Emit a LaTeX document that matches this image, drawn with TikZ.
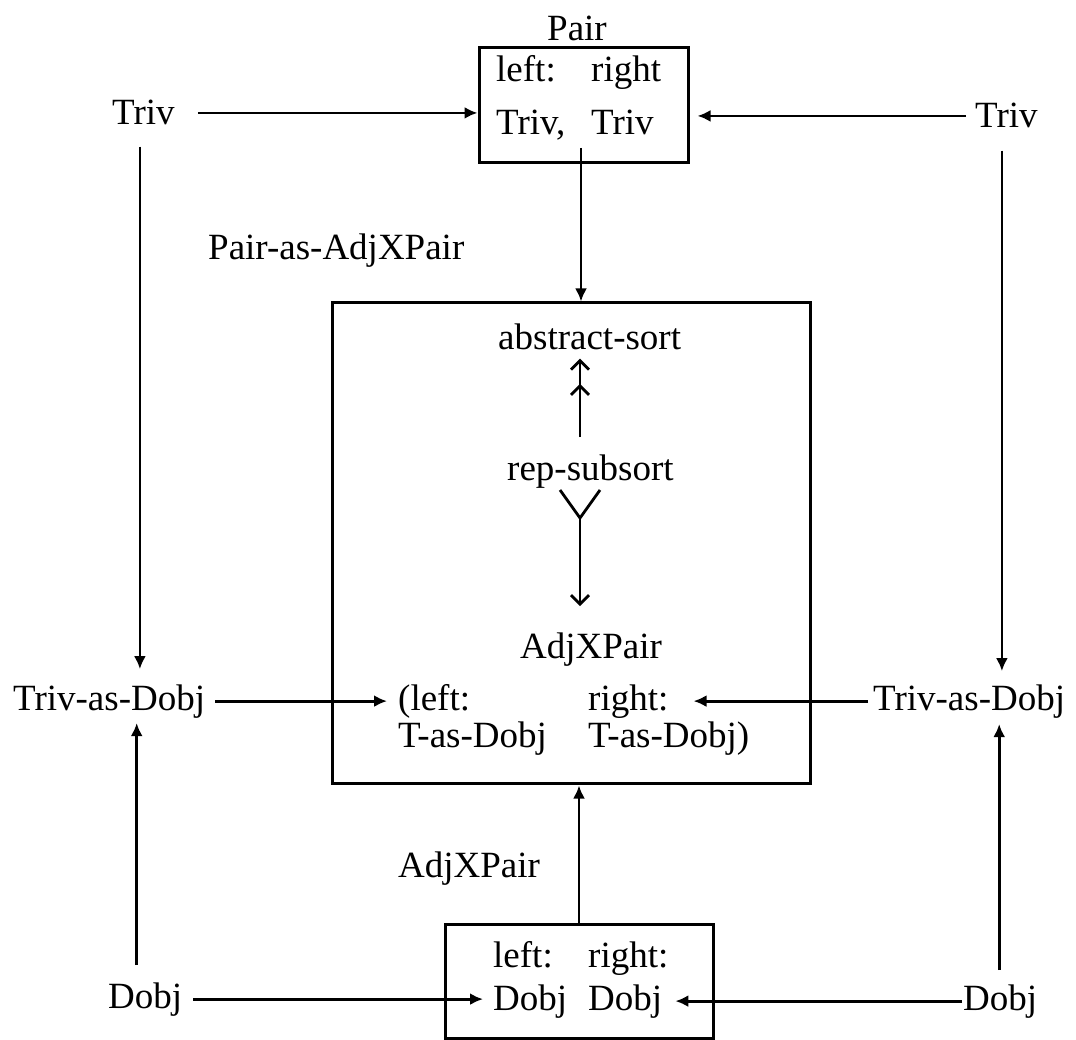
\documentclass[tikz,border=0pt]{standalone}
\usepackage{fontspec}
\setmainfont{Liberation Serif}
\usetikzlibrary{arrows.meta,calc}
\begin{document}
\begin{tikzpicture}[x=1pt,y=-1pt,
  txt/.style={inner sep=0pt, anchor=base west, font=\fontsize{37}{44}\selectfont},
  box/.style={draw, line width=3pt, inner sep=0pt},
  conn/.style={line width=2.8pt, -{Latex[length=13pt,width=12pt]}},
  plain/.style={line width=2.8pt},
  dbl/.style={line width=2.8pt, -{Straight Barb[length=9pt,width=18pt,line width=2.8pt,sep=13pt] Straight Barb[length=9pt,width=18pt,line width=2.8pt]}},
  barb/.style={line width=2.8pt, -{Straight Barb[length=9pt,width=18pt,line width=2.8pt]}}]
\fill[white] (0,0) rectangle (1076,1040);
\useasboundingbox (0,0) rectangle (1076,1040);

% boxes
\node[box, minimum width=209pt, minimum height=115pt] (pairbox) at (583.5,105.5) {};
\node[box, minimum width=478pt, minimum height=480pt] (big) at (571,543) {};
\node[box, minimum width=268pt, minimum height=114pt] (small) at (579,981) {};

% texts
\node[txt, anchor=base] (pairlbl) at (577,41) {Pair};
\node[txt] (pl1) at (496,82) {left:};
\node[txt] (pr1) at (591,82) {right};
\node[txt] (pl2) at (496,135) {Triv,};
\node[txt] (pr2) at (591,135) {Triv};
\node[txt] (trivL) at (112,125) {Triv};
\node[txt] (trivR) at (975,128) {Triv};
\node[txt] (pairas) at (208,260) {Pair-as-AdjXPair};
\node[txt] (abs) at (498,350) {abstract-sort};
\node[txt] (rep) at (507,480) {rep-subsort};
\node[txt] (adjx) at (520,658) {AdjXPair};
\node[txt] (bl1) at (398,710) {(left:};
\node[txt] (br1) at (588,710) {right:};
\node[txt] (bl2) at (398,747) {T-as-Dobj};
\node[txt] (br2) at (588,747) {T-as-Dobj)};
\node[txt] (tadL) at (13,710) {Triv-as-Dobj};
\node[txt] (tadR) at (873,710) {Triv-as-Dobj};
\node[txt] (adjlbl) at (398,877) {AdjXPair};
\node[txt] (sl1) at (493,967) {left:};
\node[txt] (sr1) at (588,967) {right:};
\node[txt] (sl2) at (493,1010) {Dobj};
\node[txt] (sr2) at (588,1010) {Dobj};
\node[txt] (dobjL) at (108,1008) {Dobj};
\node[txt] (dobjR) at (963,1010) {Dobj};

% coordinates
\coordinate (pd) at (581,148);
\coordinate (yL) at (560,490);
\coordinate (yR) at (600,490);
\coordinate (ypt) at (580,518);
\coordinate (rs) at (580,437);

% top row
\draw[conn, shorten <=23pt] (trivL.east) -- (trivL.east -| pairbox.west);
\draw[conn, shorten <=9pt, shorten >=8pt] (trivR.west) -- (trivR.west -| pairbox.east);
\draw[conn] (pd) -- (pd |- big.north);

% verticals
\draw[conn, shorten <=21pt, shorten >=15pt] ([xshift=-3.5pt]trivL.south) -- ([xshift=-3.5pt]trivL.south |- tadL.north);
\draw[conn, shorten <=22pt, shorten >=13pt] ([xshift=-4.5pt]trivR.south) -- ([xshift=-4.5pt]trivR.south |- tadR.north);
\draw[conn, shorten <=17pt, shorten >=5pt] ([xshift=-8.5pt]dobjL.north) -- ([xshift=-8.5pt]dobjL.north |- tadL.south);
\draw[conn, shorten <=14pt, shorten >=6pt] ([xshift=-1pt]dobjR.north) -- ([xshift=-1pt]dobjR.north |- tadR.south);

% into big box
\draw[conn, shorten <=10pt, shorten >=11pt] (tadL.east) -- (tadL.east -| bl1.west);
\draw[conn, shorten <=5pt, shorten >=25pt] (tadR.west) -- (tadR.west -| br1.east);
\draw[conn, shorten >=1pt] (small.north) -- (small.north |- big.south);

% bottom row
\draw[conn, shorten <=11pt, shorten >=10pt] (dobjL.east) -- (dobjL.east -| sl2.west);
\draw[conn, shorten <=1pt, shorten >=13pt] (dobjR.west) -- (dobjR.west -| sr2.east);

% inside big box
\draw[dbl, shorten >=8pt] (rs) -- (rs |- abs.south);
\draw[plain] (yL) -- (ypt) -- (yR);
\draw[barb, shorten >=26pt] (ypt) -- (ypt |- adjx.north);
\end{tikzpicture}
\end{document}
